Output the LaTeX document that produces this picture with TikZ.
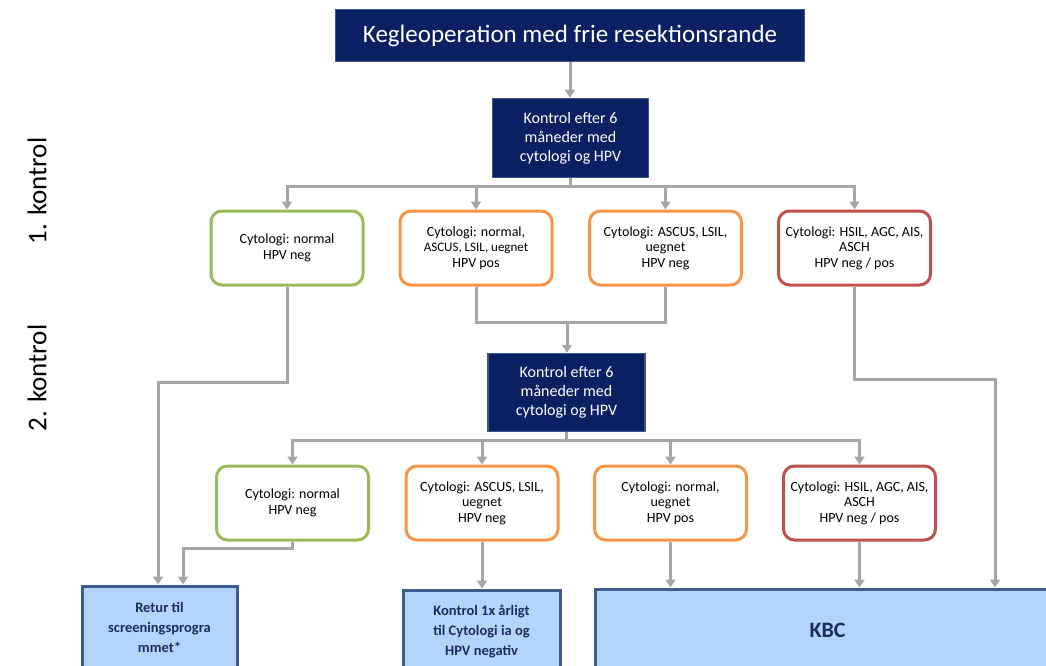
\documentclass[tikz,border=0pt]{standalone}
\usepackage{fontspec}
\setmainfont{Carlito}
\usetikzlibrary{arrows.meta,calc}
\definecolor{navy}{HTML}{0B2062}
\definecolor{navyline}{HTML}{3A5A8C}
\definecolor{cgreen}{HTML}{9BBB59}
\definecolor{corange}{HTML}{F79646}
\definecolor{cred}{HTML}{C0504D}
\definecolor{lblue}{HTML}{B3D5FB}
\definecolor{steel}{HTML}{3B5E8C}
\definecolor{cgray}{HTML}{A6A6A6}
\definecolor{dtext}{HTML}{1F2D5C}
\tikzset{
  navybox/.style={draw=navyline, fill=navy, line width=1.5pt, text=white, align=center, inner sep=0pt},
  cbox/.style={draw=#1, fill=white, rounded corners=11pt, line width=3pt, align=center, inner sep=0pt,
    minimum width=152pt, minimum height=74pt, font=\fontsize{14}{15.5}\selectfont},
  outbox/.style={draw=steel, fill=lblue, line width=3pt, align=center, inner sep=0pt, text=dtext,
    font=\bfseries\fontsize{14.5}{20}\selectfont},
  ln/.style={draw=cgray, line width=3pt},
  arr/.style={draw=cgray, line width=3pt, -{Triangle[width=10pt,length=8pt]}},
  side/.style={rotate=90, font=\fontsize{27}{29}\selectfont},
}
\begin{document}
\begin{tikzpicture}[x=1pt,y=-1pt]
\useasboundingbox (0,0) rectangle (1046,666);
\clip (0,0) rectangle (1046,666);
% side labels
\node[side] (l1) at (37,191) {1. kontrol};
\node[side] (l2) at (37,378) {2. kontrol};
% main boxes
\node[navybox, minimum width=469pt, minimum height=52pt, font=\fontsize{25}{27}\selectfont] (top) at (570,35.5) {Kegleoperation med frie resektionsrande};
\node[navybox, minimum width=156pt, minimum height=79pt, font=\fontsize{16}{19}\selectfont] (k1) at (570.5,138) {Kontrol efter 6\\måneder med\\cytologi og HPV};
% row 1
\node[cbox=cgreen] (g1) at (287,248) {Cytologi: normal\\HPV neg};
\node[cbox=corange] (o1) at (476,248) {Cytologi: normal,\\{\fontsize{13}{15.5}\selectfont ASCUS, LSIL, uegnet}\\HPV pos};
\node[cbox=corange] (o2) at (665.5,248) {Cytologi: ASCUS, LSIL,\\uegnet\\HPV neg};
\node[cbox=cred] (r1) at (854.5,248) {Cytologi: HSIL, AGC, AIS,\\ASCH\\HPV neg / pos};
% second control
\node[navybox, minimum width=157pt, minimum height=78pt, font=\fontsize{16}{19}\selectfont] (k2) at (566.5,392.5) {Kontrol efter 6\\måneder med\\cytologi og HPV};
% row 2
\node[cbox=cgreen] (g2) at (292.5,503) {Cytologi: normal\\HPV neg};
\node[cbox=corange] (o3) at (482,503) {Cytologi: ASCUS, LSIL,\\uegnet\\HPV neg};
\node[cbox=corange] (o4) at (670.5,503) {Cytologi: normal,\\uegnet\\HPV pos};
\node[cbox=cred] (r2) at (859.5,503) {Cytologi: HSIL, AGC, AIS,\\ASCH\\HPV neg / pos};
% outcomes
\node[outbox, minimum width=155pt, minimum height=82pt] (retur) at (159.5,627) {Retur til\\screeningsprogra\\mmet*};
\node[outbox, minimum width=157pt, minimum height=82pt] (k1x) at (481.5,631) {Kontrol 1x årligt\\til Cytologi ia og\\HPV negativ};
\node[outbox, minimum width=465pt, minimum height=82pt, font=\bfseries\fontsize{22}{24}\selectfont] (kbc) at (827.5,630) {KBC};
% connectors
\draw[arr] (top.south) -- (top.south |- k1.north);
\foreach \n in {g1,o1,o2,r1}{\draw[arr] (k1.south) -- ++(0,8) -| (\n.north);}
\coordinate (j1) at (567,322);
\draw[ln] (o1.south) |- (j1);
\draw[ln] (o2.south) |- (j1);
\draw[arr] (j1) -- (j1 |- k2.north);
\foreach \n in {g2,o3,o4,r2}{\draw[arr] (k2.south) -- ++(0,8) -| (\n.north);}
\draw[arr] (g1.south) -- ++(0,96) -| ([xshift=-1.5pt]retur.north);
\draw[arr] (g2.south) -- ++(0,7) -| ([xshift=23.5pt]retur.north);
\draw[arr] (o3.south) -- (o3.south |- k1x.north);
\draw[arr] (o4.south) -- (o4.south |- kbc.north);
\draw[arr] (r2.south) -- (r2.south |- kbc.north);
\draw[arr] (r1.south) -- ++(0,93) -| ([xshift=167.5pt]kbc.north);
\end{tikzpicture}
\end{document}
